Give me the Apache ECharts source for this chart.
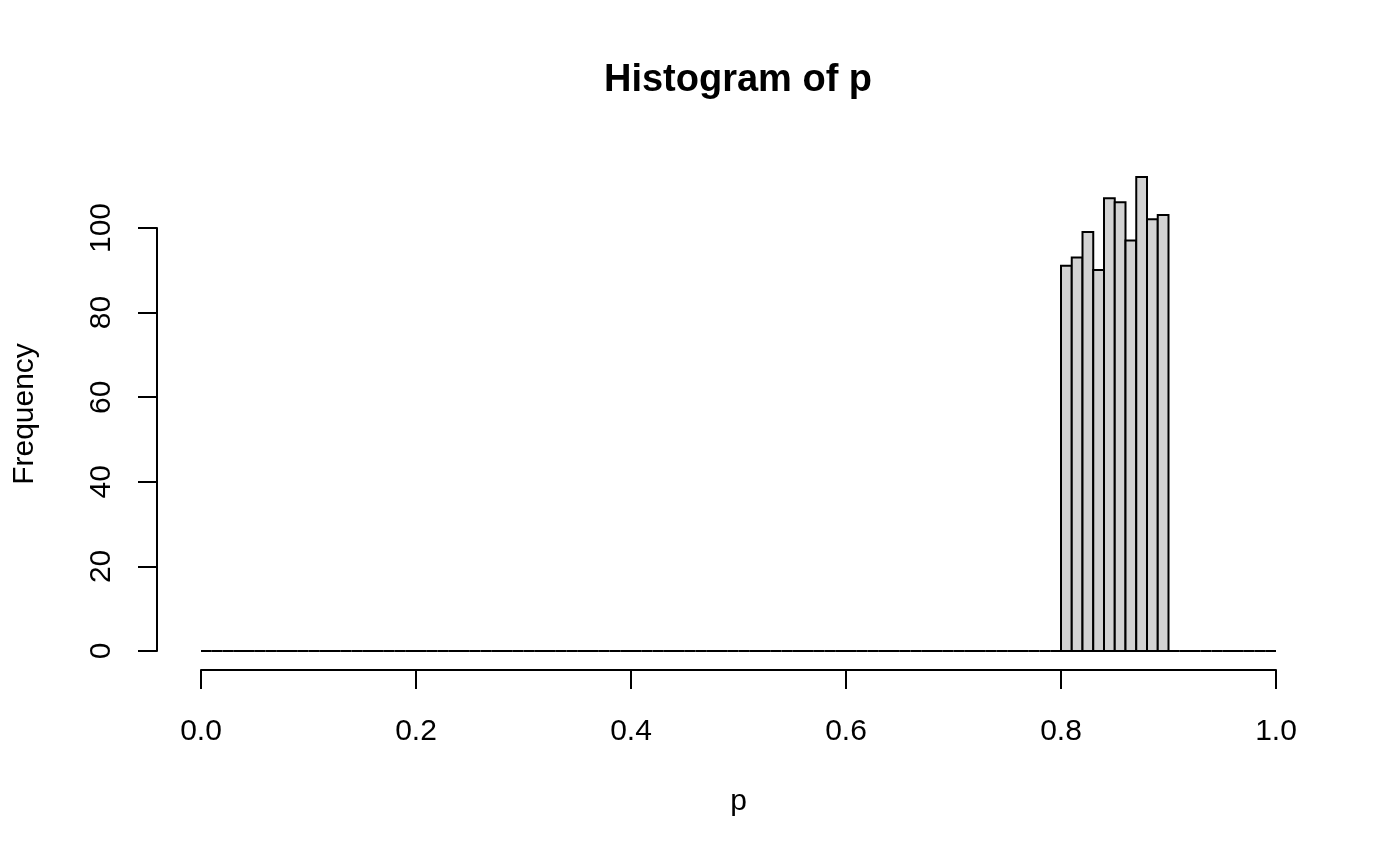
<!DOCTYPE html>
<html>
<head>
<meta charset="utf-8">
<script src="https://cdn.jsdelivr.net/npm/echarts@6/dist/echarts.min.js"></script>
<style>
  html, body { margin: 0; padding: 0; background: #fff; }
  #main { width: 1400px; height: 866px; }
</style>
</head>
<body>
<div id="main"></div>
<script>
var myChart = echarts.init(document.getElementById('main'));

// histogram of p, bins of width 0.01 from 0 to 1
var binWidth = 0.01;
var counts = [
    0,0,0,0,0,0,0,0,0,0,  0,0,0,0,0,0,0,0,0,0,
    0,0,0,0,0,0,0,0,0,0,  0,0,0,0,0,0,0,0,0,0,
    0,0,0,0,0,0,0,0,0,0,  0,0,0,0,0,0,0,0,0,0,
    0,0,0,0,0,0,0,0,0,0,  0,0,0,0,0,0,0,0,0,0,
    91,93,99,90,107,106,97,112,102,103,
    0,0,0,0,0,0,0,0,0,0
];
var xTicks = [0, 0.2, 0.4, 0.6, 0.8, 1.0];
var yTicks = [0, 20, 40, 60, 80, 100];

var bins = counts.map(function (c, i) {
    return [i * binWidth, (i + 1) * binWidth, c];
});

var font = '"Liberation Sans", Arial, Helvetica, sans-serif';

option = {
    backgroundColor: '#ffffff',
    animation: false,
    title: {
        text: 'Histogram of p',
        left: 733,
        textAlign: 'center',
        top: 57,
        textStyle: {
            fontFamily: font,
            fontSize: 38,
            fontWeight: 'bold',
            color: '#000'
        }
    },
    grid: [
        // data region (R plot region, 4% padding)
        {left: 158, right: 81, top: 158, bottom: 196},
        // x axis drawn from 0 to 1
        {left: 201, right: 124, top: 158, bottom: 196},
        // y axis drawn from 0 to 100
        {left: 157, right: 81, top: 228, bottom: 215}
    ],
    xAxis: [
        {
            gridIndex: 0, type: 'value', min: -0.04, max: 1.04,
            name: 'p', nameLocation: 'middle', nameGap: 117,
            nameTextStyle: {fontFamily: font, fontSize: 30, color: '#000'},
            axisLine: {show: false}, axisTick: {show: false},
            axisLabel: {show: false}, splitLine: {show: false}
        },
        {
            gridIndex: 1, type: 'value', min: xTicks[0], max: xTicks[xTicks.length - 1],
            interval: 0.2, position: 'bottom',
            axisLine: {show: true, lineStyle: {color: '#000', width: 2}},
            axisTick: {show: true, length: 19, lineStyle: {color: '#000', width: 2}},
            axisLabel: {
                margin: 47, fontFamily: font, fontSize: 30, color: '#000',
                formatter: function (v) { return v.toFixed(1); }
            },
            splitLine: {show: false}
        },
        {
            gridIndex: 2, type: 'value', min: 0, max: 1, show: false
        }
    ],
    yAxis: [
        {
            gridIndex: 0, type: 'value', min: -4.48, max: 116.48,
            name: 'Frequency', nameLocation: 'middle', nameGap: 118, nameRotate: 90,
            nameTextStyle: {fontFamily: font, fontSize: 30, color: '#000'},
            axisLine: {show: false}, axisTick: {show: false},
            axisLabel: {show: false}, splitLine: {show: false}
        },
        {
            gridIndex: 1, type: 'value', min: 0, max: 1, show: false
        },
        {
            gridIndex: 2, type: 'value', min: yTicks[0], max: yTicks[yTicks.length - 1],
            interval: 20, position: 'left',
            axisLine: {show: true, lineStyle: {color: '#000', width: 2}},
            axisTick: {show: true, length: 19, lineStyle: {color: '#000', width: 2}},
            axisLabel: {
                rotate: 90, margin: 40, fontFamily: font, fontSize: 30, color: '#000'
            },
            splitLine: {show: false}
        }
    ],
    series: [
        {
            type: 'custom',
            xAxisIndex: 0,
            yAxisIndex: 0,
            data: bins,
            renderItem: function (params, api) {
                var p0 = api.coord([api.value(0), api.value(2)]);
                var p1 = api.coord([api.value(1), 0]);
                return {
                    type: 'rect',
                    shape: {x: p0[0], y: p0[1], width: p1[0] - p0[0], height: p1[1] - p0[1]},
                    style: {fill: '#d3d3d3', stroke: '#000', lineWidth: 2}
                };
            }
        }
    ]
};
myChart.setOption(option);
</script>
</body>
</html>
